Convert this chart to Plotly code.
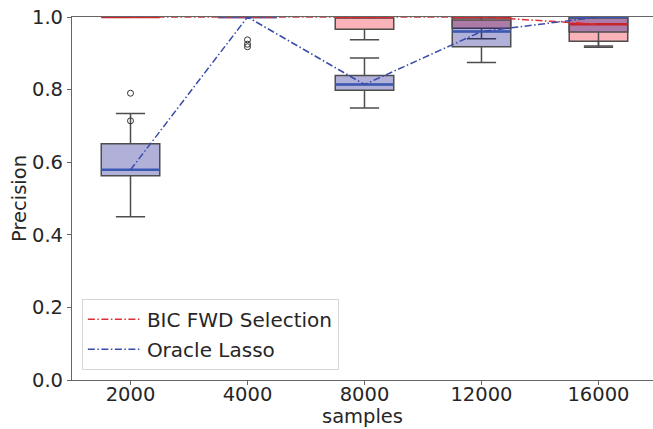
import plotly.graph_objects as go

categories = ["2000", "4000", "8000", "12000", "16000"]

# BIC FWD Selection box stats
bic_q1 = [1.0, 1.0, 0.966, 0.969, 0.933]
bic_med = [1.0, 1.0, 1.0, 1.0, 0.980]
bic_q3 = [1.0, 1.0, 1.0, 1.0, 1.0]
bic_lo = [1.0, 1.0, 0.937, 0.94, 0.920]
bic_hi = [1.0, 1.0, 1.0, 1.0, 1.0]

# Oracle Lasso box stats
ora_q1 = [0.563, 1.0, 0.798, 0.918, 0.959]
ora_med = [0.579, 1.0, 0.814, 0.960, 1.0]
ora_q3 = [0.651, 1.0, 0.839, 0.992, 1.0]
ora_lo = [0.450, 1.0, 0.749, 0.875, 0.917]
ora_hi = [0.734, 1.0, 0.887, 1.0, 1.0]

# Oracle Lasso outliers (category index, value)
ora_out_cat = [0, 0, 1, 1, 1]
ora_out_val = [0.790, 0.714, 0.937, 0.925, 0.918]

FONT = "DejaVu Sans"
TXT = "#262626"
EDGE = "#4d4d4d"
FS = 19.5
xpos = list(range(len(categories)))
half = 0.25


def median_segments(meds):
    xs, ys = [], []
    for i, m in zip(xpos, meds):
        xs += [i - half, i + half, None]
        ys += [m, m, None]
    return xs, ys


fig = go.Figure()

fig.add_trace(go.Box(
    x=xpos, q1=bic_q1, median=bic_med, q3=bic_q3,
    lowerfence=bic_lo, upperfence=bic_hi,
    width=0.5, whiskerwidth=0.5, boxpoints=False,
    fillcolor="rgba(240,20,35,0.32)", line=dict(color=EDGE, width=1.5),
    showlegend=False, hoverinfo="skip",
))
fig.add_trace(go.Box(
    x=xpos, q1=ora_q1, median=ora_med, q3=ora_q3,
    lowerfence=ora_lo, upperfence=ora_hi,
    width=0.5, whiskerwidth=0.5, boxpoints=False,
    fillcolor="rgba(0,0,128,0.31)", line=dict(color=EDGE, width=1.5),
    showlegend=False, hoverinfo="skip",
))

mx, my = median_segments(bic_med)
fig.add_trace(go.Scatter(x=mx, y=my, mode="lines",
                         line=dict(color="#c8232b", width=2.5),
                         showlegend=False, hoverinfo="skip"))
mx, my = median_segments(ora_med)
fig.add_trace(go.Scatter(x=mx, y=my, mode="lines",
                         line=dict(color="#3a58b4", width=2.5),
                         showlegend=False, hoverinfo="skip"))

fig.add_trace(go.Scatter(
    x=ora_out_cat, y=ora_out_val, mode="markers",
    marker=dict(symbol="circle-open", size=6, color="#333333", line=dict(width=1)),
    showlegend=False, hoverinfo="skip", cliponaxis=False,
))

DASH = "7px,2.5px,1.5px,2.5px"
fig.add_trace(go.Scatter(
    x=xpos, y=bic_med, mode="lines", name="BIC FWD Selection",
    line=dict(color="#dc3035", width=1.5, dash=DASH), legendgroup="a",
))
fig.add_trace(go.Scatter(
    x=xpos, y=ora_med, mode="lines", name="Oracle Lasso",
    line=dict(color="#3a4ca8", width=1.5, dash=DASH), legendgroup="b",
))

fig.update_layout(
    width=653, height=429,
    margin=dict(l=72, r=0, t=17, b=49),
    paper_bgcolor="white", plot_bgcolor="white",
    boxmode="overlay",
    font=dict(family=FONT, size=FS, color=TXT),
    legend=dict(
        x=0.017, y=0.028, xanchor="left", yanchor="bottom",
        bgcolor="white", bordercolor="#d6d6d6", borderwidth=1,
        font=dict(size=20, color=TXT), tracegroupgap=1, itemwidth=54,
    ),
    xaxis=dict(
        range=[-0.5, 4.466], tickmode="array", tickvals=xpos, ticktext=categories,
        showgrid=False, zeroline=False, showline=True, mirror=True,
        linecolor="#666666", linewidth=1.2,
        ticks="outside", ticklen=4, tickcolor="#666666",
        tickfont=dict(size=FS), ticklabelstandoff=-8,
        title=dict(text="samples", font=dict(size=FS), standoff=0),
    ),
    yaxis=dict(
        range=[0, 1], tickvals=[0, 0.2, 0.4, 0.6, 0.8, 1.0],
        ticktext=["0.0", "0.2", "0.4", "0.6", "0.8", "1.0"],
        showgrid=False, zeroline=False, showline=True,
        linecolor="#666666", linewidth=1.2,
        ticks="outside", ticklen=4, tickcolor="#666666",
        tickfont=dict(size=FS),
        title=dict(text="Precision", font=dict(size=FS), standoff=0),
    ),
)

fig.write_html("out.html")
